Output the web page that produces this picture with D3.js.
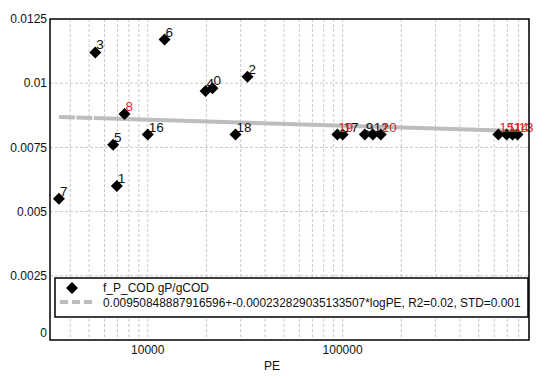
<!DOCTYPE html>
<html>
<head>
<meta charset="utf-8">
<script src="https://cdn.jsdelivr.net/npm/d3@7"></script>
<style>
  body { margin: 0; background: #fff; }
  svg { display: block; font-family: "Liberation Sans", Arial, sans-serif; }
</style>
</head>
<body>
<div id="chart"></div>
<script>
// point ids, PE and f_P_COD
const ids = [1, 2, 3, 4, 5, 6, 7, 8, 9, 0, 11, 12, 13, 14, 15, 16, 17, 18, 19, 10];
const pe = [6940, 32500, 5380, 19800, 6640, 12200, 3500, 7600, 130000, 21500,
            695000, 143000, 790000, 745000, 630000, 10000, 100000, 28200, 94000, 157000];
const fP = [0.0060, 0.01025, 0.0112, 0.0097, 0.0076, 0.0117, 0.0055, 0.0088, 0.0080, 0.0098,
            0.0080, 0.0080, 0.0080, 0.0080, 0.0080, 0.0080, 0.0080, 0.0080, 0.0080, 0.0080];
const redIds = [8, 10, 11, 13, 14, 15, 19];

const yTicks = [0, 0.0025, 0.005, 0.0075, 0.01, 0.0125];
const xTickLabels = [10000, 100000];

const fitA = 0.00950848887916596, fitB = -0.000232829035133507;
const seriesName = 'f_P_COD gP/gCOD';
const fitName = '0.00950848887916596+-0.000232829035133507*logPE, R2=0.02, STD=0.001';

const width = 550, height = 377;
const margin = { left: 50, right: 21, top: 19, bottom: 37 };

const svg = d3.select('#chart').append('svg')
  .attr('width', width).attr('height', height);

const x = d3.scaleLog()
  .domain([3150, 905000])
  .range([margin.left, width - margin.right]);

const y = d3.scaleLinear()
  .domain([0, 0.0125])
  .range([height - margin.bottom, margin.top]);

const pts = ids.map((id, i) => ({ id: id, pe: pe[i], v: fP[i], red: redIds.includes(id) }));

// grid
const grid = svg.append('g')
  .attr('stroke', '#c8c8c8')
  .attr('stroke-dasharray', '3,2')
  .attr('stroke-width', 1);

grid.selectAll('line.v')
  .data(x.ticks().filter(t => t > x.domain()[0] && t < x.domain()[1]))
  .join('line')
  .attr('class', 'v')
  .attr('x1', d => x(d)).attr('x2', d => x(d))
  .attr('y1', y.range()[1]).attr('y2', y.range()[0]);

grid.selectAll('line.h')
  .data(yTicks.slice(1, -1))
  .join('line')
  .attr('class', 'h')
  .attr('x1', x.range()[0]).attr('x2', x.range()[1])
  .attr('y1', d => y(d)).attr('y2', d => y(d));

// fit line
const peExt = d3.extent(pe);
const fitLine = d3.line()
  .x(d => x(d))
  .y(d => y(fitA + fitB * Math.log10(d)));

svg.append('path')
  .datum(peExt)
  .attr('d', fitLine)
  .attr('fill', 'none')
  .attr('stroke', '#bdbdbd')
  .attr('stroke-width', 4)
  .attr('stroke-dasharray', '16,1.5,16,1.5,1000');

// points
const diamond = d3.symbol().type(d3.symbolSquare).size(72);

svg.append('g').selectAll('path')
  .data(pts)
  .join('path')
  .attr('d', diamond)
  .attr('transform', d => `translate(${x(d.pe)},${y(d.v)}) rotate(45)`)
  .attr('fill', '#000');

svg.append('g').selectAll('text')
  .data(pts)
  .join('text')
  .attr('x', d => x(d.pe) + 1)
  .attr('y', d => y(d.v) - 3)
  .attr('font-size', 13.5)
  .attr('fill', d => d.red ? '#e32626' : '#111')
  .text(d => d.id);

// frame
svg.append('rect')
  .attr('x', x.range()[0]).attr('y', y.range()[1])
  .attr('width', x.range()[1] - x.range()[0])
  .attr('height', y.range()[0] - y.range()[1])
  .attr('fill', 'none')
  .attr('stroke', '#000')
  .attr('stroke-width', 1.5);

// y tick labels
svg.append('g').selectAll('text')
  .data(yTicks)
  .join('text')
  .attr('x', x.range()[0] - 3)
  .attr('y', d => Math.min(y(d), y.range()[0] - 7))
  .attr('dy', '0.35em')
  .attr('text-anchor', 'end')
  .attr('font-size', 12)
  .attr('fill', '#111')
  .text(d => d);

// x tick labels
svg.append('g').selectAll('text')
  .data(xTickLabels)
  .join('text')
  .attr('x', d => x(d))
  .attr('y', y.range()[0] + 14)
  .attr('text-anchor', 'middle')
  .attr('font-size', 12)
  .attr('fill', '#111')
  .text(d => d);

svg.append('text')
  .attr('x', 272)
  .attr('y', height - 7)
  .attr('text-anchor', 'middle')
  .attr('font-size', 12)
  .attr('fill', '#111')
  .text('PE');

// legend
const lg = svg.append('g').attr('transform', 'translate(55,278)');
lg.append('rect')
  .attr('width', 473).attr('height', 39)
  .attr('fill', '#fff')
  .attr('stroke', '#000')
  .attr('stroke-width', 1.5);

lg.append('path')
  .attr('d', diamond)
  .attr('transform', 'translate(17,10) rotate(45)')
  .attr('fill', '#000');

lg.append('line')
  .attr('x1', 5).attr('x2', 38)
  .attr('y1', 24).attr('y2', 24)
  .attr('stroke', '#bdbdbd')
  .attr('stroke-width', 4)
  .attr('stroke-dasharray', '8,4');

lg.append('text')
  .attr('x', 48).attr('y', 14)
  .attr('font-size', 12)
  .attr('fill', '#111')
  .text(seriesName);

lg.append('text')
  .attr('x', 48).attr('y', 29)
  .attr('font-size', 11.9)
  .attr('fill', '#111')
  .text(fitName);
</script>
</body>
</html>
